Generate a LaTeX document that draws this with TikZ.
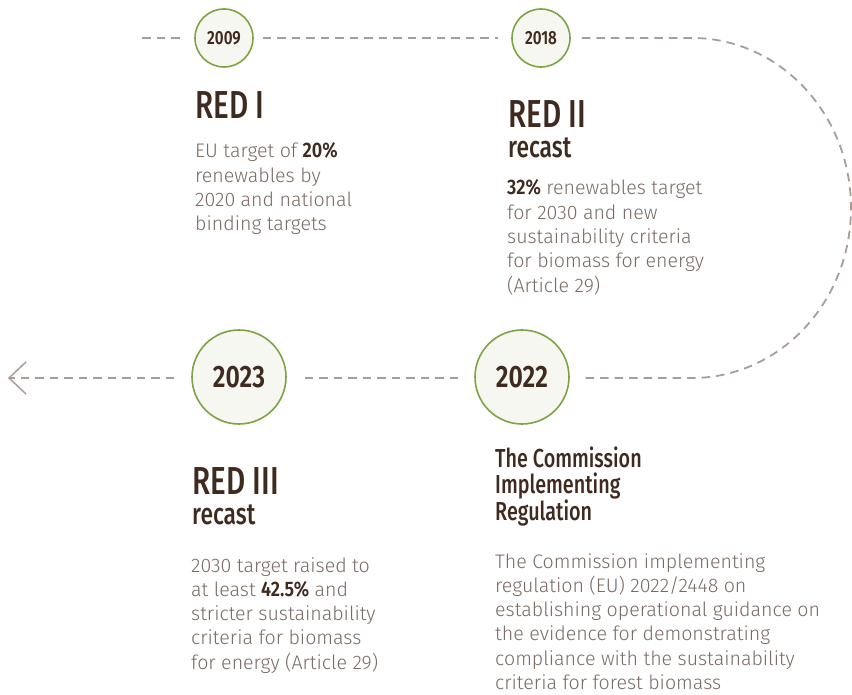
\documentclass[tikz,border=0pt]{standalone}
\usepackage{fontspec}
\newfontfamily\bodyfamily{Fira Sans Light}
\newfontfamily\headfamily{Fira Sans Medium}[FakeStretch=0.76]
\newfontfamily\numfamily{Fira Sans SemiBold}[FakeStretch=0.8]
\newfontfamily\inlinenum{Fira Sans SemiBold}[FakeStretch=0.86]
\definecolor{headc}{HTML}{3E2A1F}
\definecolor{bodyc}{HTML}{7A6A62}
\definecolor{dashc}{HTML}{A99D96}
\definecolor{ringc}{HTML}{7DA444}
\definecolor{ringfill}{HTML}{F6F7F1}
\newcommand\hb[1]{\leavevmode{\inlinenum\fontsize{21}{24.3}\selectfont\color{headc}#1}}
\newcommand\bodypar[1]{\parbox[t]{340pt}{\raggedright\bodyfamily\fontsize{19.6}{24.3}\selectfont #1}}
\newcommand\headpar[1]{\parbox[t]{300pt}{\raggedright\headfamily\fontsize{26}{26}\selectfont #1}}
\tikzset{
  body/.style={anchor=base west, inner sep=0pt, text=bodyc},
  head/.style={anchor=base west, inner sep=0pt, text depth=0pt, text=headc, font=\headfamily\fontsize{39}{40}\selectfont},
  sub/.style={anchor=base west, inner sep=0pt, text depth=0pt, text=headc, font=\headfamily\fontsize{30}{30}\selectfont},
  yearsmall/.style={circle, draw=ringc, fill=ringfill, line width=1.6pt, inner sep=0pt,
    minimum size=58pt, text=headc, font=\numfamily\fontsize{19}{20}\selectfont},
  yearbig/.style={circle, draw=ringc, fill=ringfill, line width=1.6pt, inner sep=0pt,
    minimum size=94pt, text=headc, font=\numfamily\fontsize{31}{32}\selectfont},
  dashline/.style={draw=dashc, line width=1.8pt, dash pattern=on 8.5pt off 6pt},
}
\begin{document}
\begin{tikzpicture}[x=1pt, y=-1pt]
\useasboundingbox (0,0) rectangle (852,695);

% year circles
\node[yearsmall] (y2009) at (224,38) {2009};
\node[yearsmall] (y2018) at (541,38) {2018};
\node[yearbig] (y2022) at (522,377) {2022};
\node[yearbig] (y2023) at (239,377) {2023};

% named free ends
\coordinate (startA) at (142,38);
\coordinate (turnA) at (692,38);
\coordinate (tip) at (9,378);
\coordinate (armU) at (26,362);
\coordinate (armD) at (26,394);

% connectors
\draw[dashline] (startA) -- ([xshift=-11pt]y2009.west);
\draw[dashline] ([xshift=9pt]y2009.east) -- ([xshift=-13pt]y2018.west);
\draw[dashline] ([xshift=11pt]y2018.east) -- (turnA)
   arc[start angle=90, end angle=-90, x radius=159pt, y radius=170pt]
   -- ([xshift=13pt,yshift=-1pt]y2022.east);
\draw[dashline] ([xshift=-16pt,yshift=-1pt]y2022.west) -- ([xshift=18pt,yshift=-1pt]y2023.east);
\draw[dashline] ([xshift=-17pt,yshift=-1pt]y2023.west) -- (tip);
\draw[draw=dashc, line width=1.5pt] (armU) -- (tip) -- (armD);

% RED I
\node[head] (red1) at (195,119) {RED I};
\node[body] (txt1) at (195,158) {\bodypar{EU target of \hb{20\%}\\renewables by\\2020 and national\\binding targets}};

% RED II
\node[head] (red2) at (508,128) {RED II};
\node[sub] (rec2) at (508,158) {recast};
\node[body] (txt2) at (507,195) {\bodypar{\hb{32\%} renewables target\\for 2030 and new\\sustainability criteria\\for biomass for energy\\(Article 29)}};

% RED III
\node[head] (red3) at (192,494) {RED III};
\node[sub] (rec3) at (192,524) {recast};
\node[body] (txt3) at (191,572) {\bodypar{2030 target raised to\\at least \hb{42.5\%} and\\stricter sustainability\\criteria for biomass\\for energy (Article 29)}};

% Implementing regulation
\node[body, text=headc] (reg) at (495,467) {\headpar{The Commission\\Implementing\\Regulation}};
\node[body] (txt4) at (495,568) {\bodypar{The Commission implementing\\regulation (EU) 2022/2448 on\\establishing operational guidance on\\the evidence for demonstrating\\compliance with the sustainability\\criteria for forest biomass}};
\end{tikzpicture}
\end{document}
